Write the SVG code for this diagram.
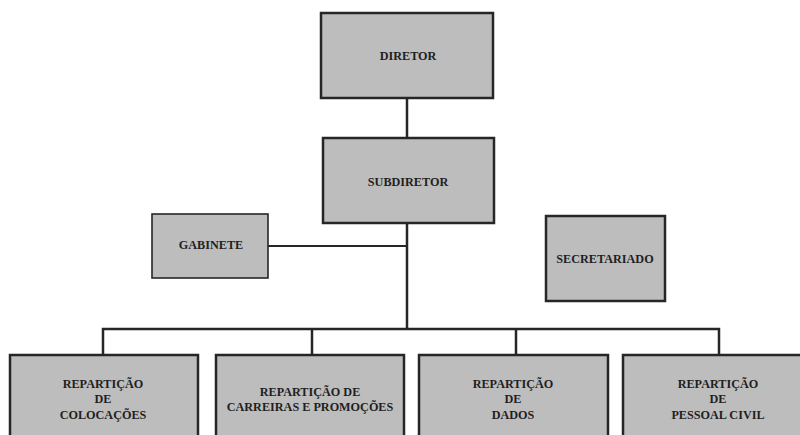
<svg xmlns="http://www.w3.org/2000/svg" width="800" height="435" viewBox="0 0 800 435">
  <style>
    .box { fill: #bdbdbd; stroke: #262626; stroke-width: 2.5; }
    .thin { stroke-width: 1.6; }
    .lbl { font-family: "Liberation Serif", "Times New Roman", serif; font-weight: bold; font-size: 12.2px; fill: #1f1f1f; text-anchor: middle; }
    .link { fill: none; stroke: #262626; stroke-width: 2.5; }
  </style>
  <rect width="800" height="435" fill="#ffffff"/>

  <!-- connectors -->
  <g id="connectors">
    <line class="link" x1="407" y1="98" x2="407" y2="138"/>
    <line class="link" x1="407" y1="223" x2="407" y2="329"/>
    <line class="link" x1="268" y1="246" x2="407" y2="246" style="stroke-width:2"/>
    <polyline class="link" points="103,355 103,329 719,329 719,355"/>
    <line class="link" x1="312" y1="329" x2="312" y2="355"/>
    <line class="link" x1="516" y1="329" x2="516" y2="355"/>
  </g>

  <g id="diretor">
    <rect class="box" x="321" y="13" width="172" height="85"/>
    <text class="lbl" x="408" y="60">DIRETOR</text>
  </g>

  <g id="subdiretor">
    <rect class="box" x="323" y="138" width="171" height="85"/>
    <text class="lbl" x="408" y="186">SUBDIRETOR</text>
  </g>

  <g id="gabinete">
    <rect class="box thin" x="152" y="214" width="116" height="64"/>
    <text class="lbl" x="211" y="249">GABINETE</text>
  </g>

  <g id="secretariado">
    <rect class="box" x="546" y="216" width="119" height="85"/>
    <text class="lbl" x="605" y="263">SECRETARIADO</text>
  </g>

  <g id="rep-colocacoes">
    <rect class="box" x="10" y="355" width="188" height="90"/>
    <text class="lbl" x="103" y="387.5">REPARTIÇÃO</text>
    <text class="lbl" x="103" y="403">DE</text>
    <text class="lbl" x="103" y="418.5">COLOCAÇÕES</text>
  </g>

  <g id="rep-carreiras">
    <rect class="box" x="216" y="355" width="188" height="90"/>
    <text class="lbl" x="310" y="396">REPARTIÇÃO DE</text>
    <text class="lbl" x="310" y="411">CARREIRAS E PROMOÇÕES</text>
  </g>

  <g id="rep-dados">
    <rect class="box" x="419" y="355" width="189" height="90"/>
    <text class="lbl" x="513" y="387.5">REPARTIÇÃO</text>
    <text class="lbl" x="513" y="403">DE</text>
    <text class="lbl" x="513" y="418.5">DADOS</text>
  </g>

  <g id="rep-pessoal-civil">
    <rect class="box" x="623" y="355" width="190" height="90"/>
    <text class="lbl" x="718" y="387.5">REPARTIÇÃO</text>
    <text class="lbl" x="718" y="403">DE</text>
    <text class="lbl" x="718" y="418.5">PESSOAL CIVIL</text>
  </g>
</svg>
